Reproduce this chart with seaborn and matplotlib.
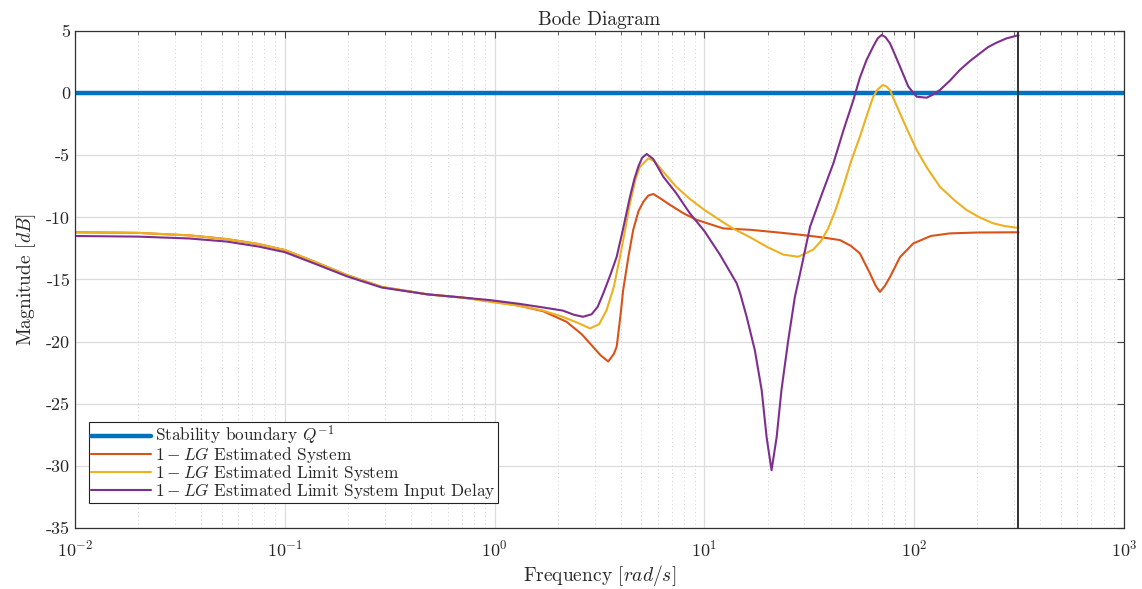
import numpy as np
import pandas as pd
import seaborn as sns
import matplotlib
matplotlib.use("Agg")
import matplotlib.pyplot as plt
from matplotlib.ticker import LogLocator, NullFormatter

# ---------------- data ----------------
boundary_freq = [0.01, 1000.0]
boundary_mag = [0.0, 0.0]

est_freq = [0.01, 0.02, 0.035, 0.053, 0.075, 0.1, 0.14, 0.198, 0.29, 0.48, 0.7, 0.95,
            1.3, 1.7, 2.2, 2.6, 2.85, 3.2, 3.48, 3.7, 3.82, 4.0, 4.1, 4.35, 4.58, 4.85,
            5.12, 5.4, 5.71, 6.2, 6.86, 8.0, 9.18, 12.3, 16.5, 22.0, 28.6, 36.0, 44.3,
            50.0, 55.1, 61.5, 65.5, 68.7, 72.6, 76.7, 85.6, 99.0, 120.0, 148.0, 200.0, 314.16]
est_mag = [-11.2, -11.25, -11.45, -11.75, -12.15, -12.63, -13.6, -14.65, -15.6, -16.2, -16.45, -16.75,
           -17.1, -17.55, -18.4, -19.4, -20.15, -21.1, -21.6, -21.0, -20.4, -17.6, -15.85, -13.1, -11.0, -9.5,
           -8.74, -8.25, -8.12, -8.5, -9.0, -9.7, -10.2, -10.89, -11.0, -11.2, -11.4, -11.6, -11.83,
           -12.3, -12.9, -14.5, -15.5, -16.0, -15.5, -14.8, -13.2, -12.1, -11.5, -11.29, -11.22, -11.2]

lim_freq = [0.01, 0.02, 0.035, 0.053, 0.075, 0.1, 0.14, 0.198, 0.29, 0.48, 0.7, 0.95,
            1.3, 1.7, 2.11, 2.5, 2.85, 3.15, 3.42, 3.7, 3.96, 4.2, 4.42, 4.7, 4.93, 5.41,
            5.8, 6.37, 7.3, 8.5, 10.0, 12.3, 13.7, 16.5, 20.0, 23.8, 28.0, 33.0, 36.0,
            38.9, 42.0, 45.9, 50.0, 55.1, 60.0, 63.8, 67.0, 70.8, 73.5, 76.7, 80.0, 85.6,
            93.0, 102.8, 115.0, 132.7, 155.0, 177.8, 205.0, 238.0, 270.0, 314.16]
lim_mag = [-11.2, -11.25, -11.45, -11.75, -12.15, -12.63, -13.6, -14.65, -15.6, -16.2, -16.45, -16.8,
           -17.1, -17.5, -18.0, -18.5, -18.94, -18.6, -17.46, -15.6, -13.17, -10.9, -8.87, -6.9, -5.93, -5.25,
           -5.5, -6.33, -7.5, -8.5, -9.4, -10.4, -10.9, -11.6, -12.4, -13.0, -13.17, -12.6, -11.9,
           -10.89, -9.5, -7.54, -5.5, -3.51, -1.6, -0.29, 0.3, 0.65, 0.55, 0.25, -0.5, -1.63,
           -3.0, -4.58, -6.0, -7.54, -8.6, -9.41, -10.0, -10.48, -10.7, -10.85]

delay_freq = [0.01, 0.02, 0.035, 0.053, 0.075, 0.1, 0.14, 0.198, 0.29, 0.48, 0.7, 0.95,
              1.3, 1.7, 2.11, 2.4, 2.64, 2.9, 3.1, 3.3, 3.55, 3.82, 4.1, 4.42, 4.64, 4.84,
              5.05, 5.31, 5.7, 6.37, 7.3, 8.53, 10.0, 11.86, 14.25, 14.8, 15.9, 17.4, 18.75, 19.8,
              20.9, 22.1, 23.3, 25.1, 27.0, 28.6, 31.9, 36.0, 41.2, 46.0, 51.3, 55.0, 59.3,
              64.0, 67.0, 70.0, 73.0, 76.7, 80.0, 85.6, 93.8, 102.8, 114.6, 122.0, 132.7,
              148.0, 165.0, 185.0, 205.8, 225.0, 247.0, 275.0, 307.6, 314.16]
delay_mag = [-11.5, -11.55, -11.7, -11.95, -12.35, -12.8, -13.75, -14.75, -15.65, -16.2, -16.45, -16.66,
             -16.95, -17.25, -17.5, -17.85, -18.0, -17.8, -17.2, -16.1, -14.7, -13.17, -10.9, -8.34, -6.9, -5.93,
             -5.2, -4.9, -5.3, -6.73, -8.0, -9.68, -11.1, -13.0, -15.3, -16.1, -18.0, -20.7, -23.9, -27.7,
             -30.35, -27.7, -23.9, -19.9, -16.4, -14.5, -10.75, -8.3, -5.65, -3.0, -0.56, 1.2, 2.67,
             3.8, 4.4, 4.68, 4.5, 4.0, 3.3, 2.13, 0.52, -0.29, -0.37, -0.15, 0.25,
             1.0, 1.86, 2.6, 3.2, 3.7, 4.06, 4.4, 4.62, 4.65]

cutoff_freq = 314.16

labels = [r"Stability boundary $Q^{-1}$",
          r"$1-LG$ Estimated System",
          r"$1-LG$ Estimated Limit System",
          r"$1-LG$ Estimated Limit System Input Delay"]
colors = ["#0072BD", "#D95319", "#EDB120", "#7E2F8E"]
widths = [3.2, 1.5, 1.5, 1.5]

# ---------------- style ----------------
sns.set_style("white")
plt.rcParams["font.family"] = ["cmr10", "DejaVu Serif"]
plt.rcParams["mathtext.fontset"] = "cm"
plt.rcParams["axes.unicode_minus"] = False
plt.rcParams["axes.formatter.use_mathtext"] = True

fig = plt.figure(figsize=(11.42, 5.89), dpi=100)
ax = fig.add_axes([0.0657, 0.1036, 0.9185, 0.8438])

series = [(boundary_freq, boundary_mag), (est_freq, est_mag),
          (lim_freq, lim_mag), (delay_freq, delay_mag)]
for (f, m), lab, c, w in zip(series, labels, colors, widths):
    df = pd.DataFrame({"freq": f, "mag": m})
    sns.lineplot(data=df, x="freq", y="mag", ax=ax, color=c, linewidth=w,
                 label=lab, sort=False, estimator=None)

ax.axvline(cutoff_freq, color="#333333", linewidth=1.4)

ax.set_xscale("log")
ax.set_xlim(1e-2, 1e3)
ax.set_ylim(-35, 5)
ax.set_yticks(np.arange(-35, 6, 5))
ax.set_yticklabels([str(v) for v in range(-35, 6, 5)])
ax.xaxis.set_major_locator(LogLocator(base=10, numticks=10))
ax.xaxis.set_minor_locator(LogLocator(base=10, subs=np.arange(2, 10), numticks=20))
ax.xaxis.set_minor_formatter(NullFormatter())

ax.grid(True, which="major", color="#dcdcdc", linewidth=0.9, linestyle="-")
ax.grid(True, which="minor", axis="x", color="#d4d4d4", linewidth=0.7, linestyle=(0, (1, 3)))
ax.set_axisbelow(True)

ax.tick_params(axis="both", which="both", direction="in", top=True, right=True,
               color="#444444", labelsize=13)
ax.tick_params(axis="both", which="major", length=5)
ax.tick_params(axis="x", which="minor", length=3)
ax.tick_params(axis="x", which="major", pad=8)
for s in ax.spines.values():
    s.set_color("#333333")
    s.set_linewidth(0.9)

ax.set_xlabel(r"Frequency $[rad/s]$", fontsize=14, labelpad=2)
ax.set_ylabel(r"Magnitude $[dB]$", fontsize=14, labelpad=6)
ax.set_title("Bode Diagram", fontsize=14, pad=4)

leg = ax.legend(loc="lower left", bbox_to_anchor=(0.013, 0.05), fontsize=12.4,
                frameon=True, fancybox=False, framealpha=1, edgecolor="#222222",
                borderpad=0.12, labelspacing=-0.12, handlelength=3.5, handletextpad=0.25,
                borderaxespad=0)
leg.get_frame().set_linewidth(0.8)

fig.savefig("out.png", dpi=100)
